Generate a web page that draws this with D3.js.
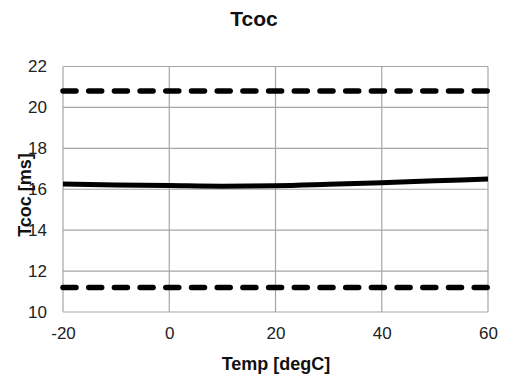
<!DOCTYPE html>
<html><head><meta charset="utf-8">
<script src="https://cdn.jsdelivr.net/npm/d3@7"></script>
<style>body{margin:0;background:#fff}svg{display:block}text{font-family:"Liberation Sans",Arial,sans-serif}</style>
</head><body>
<script>
const temps = [-20, -10, 0, 10, 20, 30, 40, 50, 60];
const tcoc = [16.26, 16.21, 16.18, 16.15, 16.17, 16.24, 16.32, 16.41, 16.5];
const upperLimit = [20.8, 20.8];
const lowerLimit = [11.2, 11.2];
const limitTemps = [-20, 60];
const xTicks = [-20, 0, 20, 40, 60];
const yTicks = [10, 12, 14, 16, 18, 20, 22];

const W = 505, H = 376;
const m = {l: 63, r: 17, t: 66.5, b: 64};
const svg = d3.select("body").append("svg").attr("width", W).attr("height", H);
const x = d3.scaleLinear().domain([-20, 60]).range([m.l, W - m.r]);
const y = d3.scaleLinear().domain([10, 22]).range([H - m.b, m.t]);
const grid = "#a6a6a6";

// gridlines
svg.append("g").selectAll("line").data(yTicks).join("line")
  .attr("x1", x(-20)).attr("x2", x(60)).attr("y1", d => y(d)).attr("y2", d => y(d))
  .attr("stroke", grid).attr("stroke-width", 1.2);
svg.append("g").selectAll("line").data(xTicks).join("line")
  .attr("y1", y(10)).attr("y2", y(22)).attr("x1", d => x(d)).attr("x2", d => x(d))
  .attr("stroke", grid).attr("stroke-width", 1.2);

// axes tick labels
const yAxis = d3.axisLeft(y).tickValues(yTicks).tickSize(0).tickPadding(16).tickFormat(d => String(d));
const gy = svg.append("g").attr("transform", `translate(${x(-20)},0)`).call(yAxis);
gy.select(".domain").remove();
gy.selectAll("text").attr("font-size", 17).attr("fill", "#222").style("font-family", '"Liberation Sans",Arial,sans-serif');

const xAxis = d3.axisBottom(x).tickValues(xTicks).tickSize(0).tickPadding(15).tickFormat(d => String(d));
const gx = svg.append("g").attr("transform", `translate(0,${y(10)})`).call(xAxis);
gx.select(".domain").remove();
gx.selectAll("text").attr("font-size", 17).attr("fill", "#222").style("font-family", '"Liberation Sans",Arial,sans-serif');

// limit lines
const lim = d3.line().x((d, i) => x(limitTemps[i])).y(d => y(d));
[upperLimit, lowerLimit].forEach(arr => {
  svg.append("path").attr("d", lim(arr)).attr("fill", "none").attr("stroke", "#000")
    .attr("stroke-width", 5.5).attr("stroke-linecap", "round").attr("stroke-dasharray", "13,12.7");
});

// main curve
const line = d3.line().x((d, i) => x(temps[i])).y(d => y(d)).curve(d3.curveMonotoneX);
svg.append("path").attr("d", line(tcoc)).attr("fill", "none").attr("stroke", "#000").attr("stroke-width", 5);

// titles
svg.append("text").attr("x", 254).attr("y", 26).attr("text-anchor", "middle")
  .attr("font-size", 21).attr("font-weight", "bold").attr("fill", "#111").text("Tcoc");
svg.append("text").attr("x", 276).attr("y", 370).attr("text-anchor", "middle")
  .attr("font-size", 18).attr("font-weight", "bold").attr("fill", "#111").text("Temp [degC]");
svg.append("text").attr("transform", "translate(31,195) rotate(-90)").attr("text-anchor", "middle")
  .attr("font-size", 18).attr("font-weight", "bold").attr("fill", "#111").text("Tcoc [ms]");
</script>
</body></html>
